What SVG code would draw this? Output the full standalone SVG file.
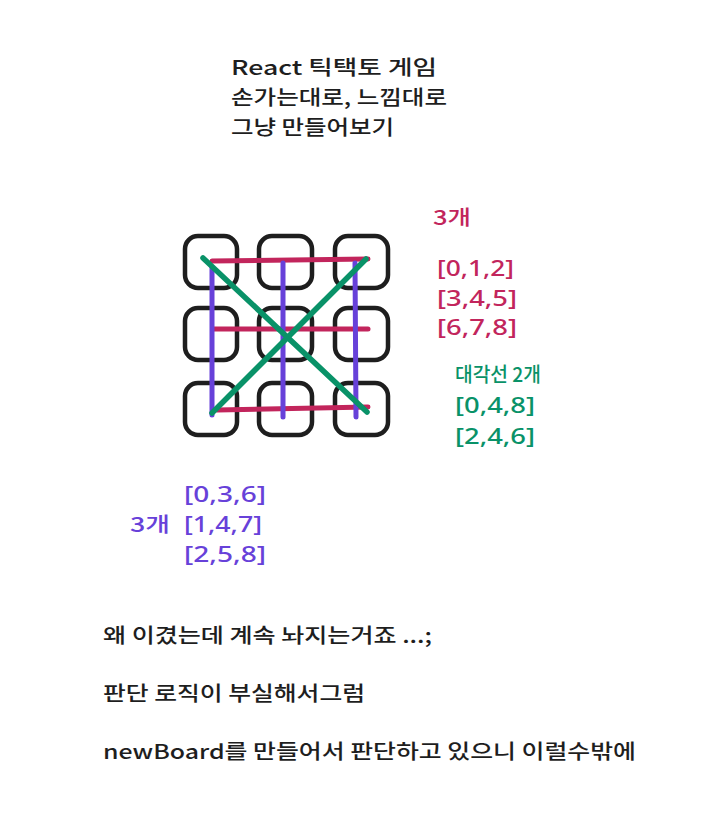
<svg xmlns="http://www.w3.org/2000/svg" width="716" height="839" viewBox="0 0 716 839">
<style>
text{font-family:"Noto Sans CJK KR","Noto Sans",sans-serif;font-weight:500;}
.t{font-size:20px;fill:#1e1e1e;}
.b{font-size:21px;font-family:"Noto Sans","Noto Sans CJK KR",sans-serif;}
.red{fill:#c2255c;}
.pur{fill:#6741d9;}
.grn{fill:#099268;}
.cell{fill:none;stroke:#1e1e1e;stroke-width:4.5;}
.lr{stroke:#c2255c;stroke-width:5;stroke-linecap:round;fill:none;}
.lp{stroke:#6741d9;stroke-width:5;stroke-linecap:round;fill:none;}
.lg{stroke:#099268;stroke-width:5.5;stroke-linecap:round;fill:none;}
</style>
<rect width="716" height="839" fill="#ffffff"/>
<g id="title">
<text class="t" x="231" y="75" textLength="206" lengthAdjust="spacingAndGlyphs">React 틱택토 게임</text>
<text class="t" x="231" y="105" textLength="216" lengthAdjust="spacingAndGlyphs">손가는대로, 느낌대로</text>
<text class="t" x="231" y="135" textLength="163" lengthAdjust="spacingAndGlyphs">그냥 만들어보기</text>
</g>
<g id="board">
<rect class="cell" x="185" y="236" width="52" height="52" rx="13"/>
<rect class="cell" x="259" y="236" width="53" height="52" rx="13"/>
<rect class="cell" x="335" y="236" width="53" height="52" rx="13"/>
<rect class="cell" x="185" y="308" width="52" height="52" rx="13"/>
<rect class="cell" x="259" y="308" width="53" height="52" rx="13"/>
<rect class="cell" x="335" y="308" width="53" height="52" rx="13"/>
<rect class="cell" x="185" y="383" width="52" height="52" rx="13"/>
<rect class="cell" x="259" y="383" width="53" height="52" rx="13"/>
<rect class="cell" x="335" y="383" width="53" height="52" rx="13"/>
</g>
<g id="lines">
<path class="lr" d="M212 261 L368 259"/>
<path class="lr" d="M214 329 L368 329"/>
<path class="lr" d="M217 410 L368 407"/>
<path class="lp" d="M212 267 L212 415"/>
<path class="lp" d="M283 263 L283 417"/>
<path class="lp" d="M355 263 L356 417"/>
<path class="lg" d="M203 258 L367 412"/>
<path class="lg" d="M366 259 L212 413"/>
</g>
<g id="rows-label">
<text class="t red" x="433" y="225" textLength="38" lengthAdjust="spacingAndGlyphs">3개</text>
<text class="b red" x="437" y="276" textLength="77" lengthAdjust="spacingAndGlyphs">[0,1,2]</text>
<text class="b red" x="437" y="306" textLength="80" lengthAdjust="spacingAndGlyphs">[3,4,5]</text>
<text class="b red" x="437" y="335" textLength="80" lengthAdjust="spacingAndGlyphs">[6,7,8]</text>
</g>
<g id="diag-label">
<text class="t grn" x="455" y="382" textLength="86" lengthAdjust="spacingAndGlyphs">대각선 2개</text>
<text class="b grn" x="455" y="413" textLength="80" lengthAdjust="spacingAndGlyphs">[0,4,8]</text>
<text class="b grn" x="455" y="444" textLength="80" lengthAdjust="spacingAndGlyphs">[2,4,6]</text>
</g>
<g id="cols-label">
<text class="t pur" x="130" y="532" textLength="40" lengthAdjust="spacingAndGlyphs">3개</text>
<text class="b pur" x="184" y="502" textLength="82" lengthAdjust="spacingAndGlyphs">[0,3,6]</text>
<text class="b pur" x="184" y="532" textLength="78" lengthAdjust="spacingAndGlyphs">[1,4,7]</text>
<text class="b pur" x="184" y="562" textLength="82" lengthAdjust="spacingAndGlyphs">[2,5,8]</text>
</g>
<g id="notes">
<text class="t" x="103" y="643" textLength="329" lengthAdjust="spacingAndGlyphs">왜 이겼는데 계속 놔지는거죠 ...;</text>
<text class="t" x="103" y="701" textLength="262" lengthAdjust="spacingAndGlyphs">판단 로직이 부실해서그럼</text>
<text class="t" x="103" y="759" textLength="533" lengthAdjust="spacingAndGlyphs">newBoard를 만들어서 판단하고 있으니 이럴수밖에</text>
</g>
</svg>
